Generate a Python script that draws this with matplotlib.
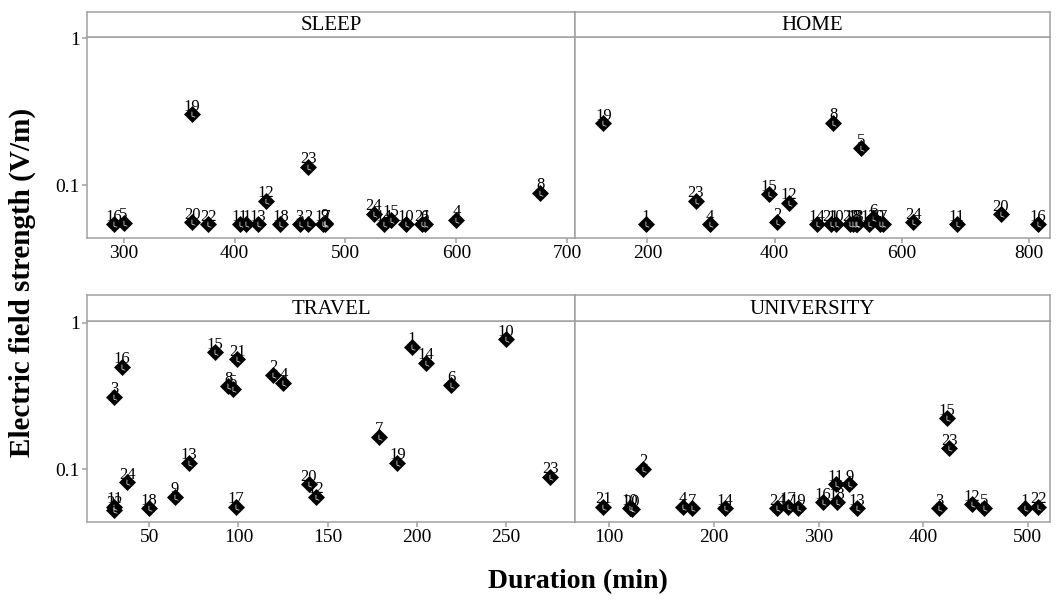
import numpy as np
import matplotlib.pyplot as plt
from matplotlib.path import Path

plt.rcParams['font.family'] = ['Liberation Serif', 'DejaVu Serif']

# participant id, duration (min), electric field (V/m) for each activity
sleep_id = [16, 5, 19, 20, 22, 11, 1, 13, 12, 18, 3, 2, 23, 17, 9, 7, 24, 14, 15, 10, 21, 6, 4, 8]
sleep_dur = [291.6, 300, 361.7, 361.7, 376.2, 404.7, 410.7, 421.3, 428.5, 441.4, 458.8, 466.4,
             466.4, 479.6, 481.4, 482, 525.6, 534.7, 540.7, 554.2, 569.3, 571.4, 600, 675.5]
sleep_e = [0.0545, 0.0558, 0.306, 0.0562, 0.0545, 0.0545, 0.0545, 0.0545, 0.0788, 0.0545, 0.0545, 0.0545,
           0.134, 0.0545, 0.0553, 0.0545, 0.064, 0.0545, 0.0583, 0.0545, 0.0545, 0.0545, 0.0583, 0.0893]

home_id = [19, 1, 23, 4, 15, 2, 12, 14, 21, 10, 8, 5, 22, 18, 13, 3, 17, 6, 9, 7, 24, 11, 20, 16]
home_dur = [130.9, 198, 276, 298.5, 391.6, 404.2, 423, 467, 488, 495.9, 492.1, 535.6,
            518.4, 523.6, 527.8, 529.8, 548.7, 555, 565.5, 570.7, 617.8, 686, 755.5, 813.2]
home_e = [0.265, 0.0545, 0.0788, 0.0545, 0.0871, 0.0562, 0.0764, 0.0545, 0.0545, 0.0545, 0.267, 0.179,
          0.0545, 0.0545, 0.0545, 0.0545, 0.0545, 0.0597, 0.0545, 0.0545, 0.0562, 0.0545, 0.0637, 0.0545]

travel_id = [16, 3, 15, 21, 8, 5, 2, 4, 1, 14, 10, 6, 7, 19, 13, 24, 23, 20, 12, 9, 18, 17, 11, 22]
travel_dur = [34.5, 30.2, 86.9, 99.4, 94.3, 97.1, 119.6, 125.2, 197.2, 205.1, 250, 219.3,
              179.1, 189.2, 72.3, 37.7, 274.9, 139.6, 143.4, 64.4, 49.8, 98.5, 30.2, 30.2]
travel_e = [0.500, 0.313, 0.627, 0.565, 0.370, 0.353, 0.440, 0.389, 0.684, 0.533, 0.772, 0.376,
            0.167, 0.111, 0.111, 0.0818, 0.0893, 0.0793, 0.0653, 0.0653, 0.0545, 0.0558, 0.0558, 0.0530]

univ_id = [21, 10, 20, 2, 4, 7, 14, 24, 17, 19, 16, 11, 18, 9, 13, 3, 15, 23, 12, 5, 1, 22]
univ_dur = [94.3, 119.8, 121.4, 132.5, 170.2, 178.8, 210.6, 260.6, 271.1, 280.1, 304.6, 316.4,
            318, 329.4, 336.5, 415.2, 422.6, 425, 446.5, 458.5, 497.4, 510.1]
univ_e = [0.0558, 0.0545, 0.0538, 0.1008, 0.0558, 0.0545, 0.0545, 0.0545, 0.0558, 0.0545, 0.0598, 0.0793,
          0.0598, 0.0793, 0.0545, 0.0545, 0.223, 0.139, 0.058, 0.0545, 0.0545, 0.0558]

W, H = 1056, 606
fig = plt.figure(figsize=(W / 100, H / 100), dpi=100)

GRAY = '#a0a0a0'
# white mark drawn inside the diamonds
lmark = Path([(-0.1, 0.5), (-0.1, -0.3), (0.5, -0.5)], [Path.MOVETO, Path.LINETO, Path.LINETO])

def frac(x0, y0, x1, y1):
    return [x0 / W, 1 - y1 / H, (x1 - x0) / W, (y1 - y0) / H]

def panel(box, strip_box, title, ids, dur, e, xticks, xlim, left_col):
    ax = fig.add_axes(frac(*box))
    ax.plot(dur, e, linestyle='none', marker='D', ms=8, mfc='black', mec='black', mew=0.5)
    ax.plot(dur, e, linestyle='none', marker=lmark, ms=4, mfc='none', mec='white', mew=0.5)
    for i, x, y in zip(ids, dur, e):
        ax.annotate(str(i), (x, y), xytext=(0, 2.5), textcoords='offset points',
                    ha='center', va='baseline', fontsize=12)
    ax.set_yscale('log')
    ax.set_ylim(0.0439, 1.03)
    ax.set_xlim(*xlim)
    ax.set_xticks(xticks)
    ax.minorticks_off()
    ax.set_yticks([0.1, 1])
    ax.set_yticklabels(['0.1', '1'])
    ax.tick_params(axis='both', colors=GRAY, labelcolor='black', labelsize=14,
                   length=3.8, width=1.1, direction='out', pad=1.5)
    if not left_col:
        ax.tick_params(axis='y', left=False, labelleft=False)
    for s in ax.spines.values():
        s.set_color(GRAY)
        s.set_linewidth(1.1)
    sax = fig.add_axes(frac(*strip_box))
    sax.set_xticks([])
    sax.set_yticks([])
    for s in sax.spines.values():
        s.set_color(GRAY)
        s.set_linewidth(1.1)
    sax.text(0.5, 0.45, title, ha='center', va='center', fontsize=15, transform=sax.transAxes)

panel((87, 36.5, 575, 238), (87, 12, 575, 36.5), 'SLEEP', sleep_id, sleep_dur, sleep_e,
      [300, 400, 500, 600, 700], (267, 707), True)
panel((575, 36.5, 1050, 238), (575, 12, 1050, 36.5), 'HOME', home_id, home_dur, home_e,
      [200, 400, 600, 800], (86.4, 832.5), False)
panel((87, 320.7, 575, 522), (87, 295, 575, 320.7), 'TRAVEL', travel_id, travel_dur, travel_e,
      [50, 100, 150, 200, 250], (15, 288.9), True)
panel((575, 320.7, 1050, 522), (575, 295, 1050, 320.7), 'UNIVERSITY', univ_id, univ_dur, univ_e,
      [100, 200, 300, 400, 500], (67.2, 521.3), False)

fig.text(22 / W, 1 - 282 / H, 'Electric field strength (V/m)', rotation=90, ha='center', va='center',
         fontsize=21, fontweight='bold')
fig.text(578 / W, 1 - 582 / H, 'Duration (min)', ha='center', va='center', fontsize=20, fontweight='bold')

fig.savefig('out.png', dpi=100)
